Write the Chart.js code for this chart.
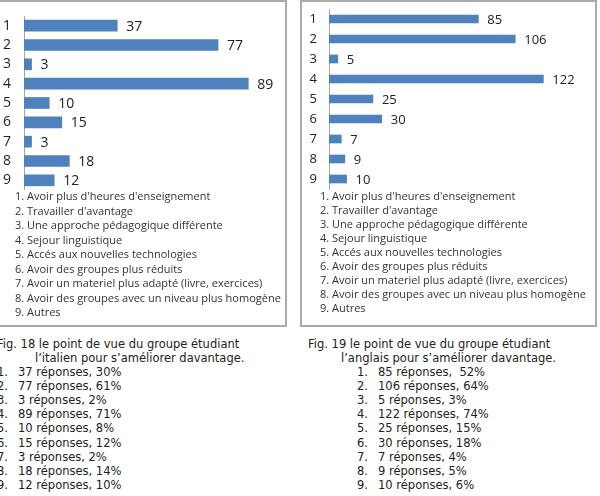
<!DOCTYPE html>
<html>
<head>
<meta charset="utf-8">
<script src="https://cdn.jsdelivr.net/npm/chart.js@4.4.0/dist/chart.umd.min.js"></script>
<style>
  html, body { margin: 0; padding: 0; background: #fff; width: 600px; height: 496px; overflow: hidden; }
  .box { position: absolute; box-sizing: border-box; border: 2px solid #aaaaaa; background: #fff; }
  .legend { position: absolute; font-family: "Open Sans", sans-serif; font-size: 11px; color: #333; line-height: 14.5px; white-space: pre; }
  .cap { position: absolute; font-family: "DejaVu Sans", sans-serif; font-size: 11.5px; color: #222; line-height: 14px; white-space: pre; }
  canvas { position: absolute; }
</style>
</head>
<body>
<div class="box" style="left:-3px;top:0;width:290px;height:327px;"></div>
<div class="box" style="left:300px;top:0;width:297px;height:327px;"></div>
<canvas id="c1" width="286" height="190" style="left:0;top:0;width:286px;height:190px;"></canvas>
<canvas id="c2" width="295" height="190" style="left:301px;top:0;width:295px;height:190px;"></canvas>
<div class="legend" id="leg1" style="left:15px;top:189px;"></div>
<div class="legend" id="leg2" style="left:320px;top:189px;line-height:14px;"></div>
<div id="caps"></div>
<script>
const categories = ['1','2','3','4','5','6','7','8','9'];
const italienValues = [37, 77, 3, 89, 10, 15, 3, 18, 12];
const anglaisValues = [85, 106, 5, 122, 25, 30, 7, 9, 10];
const italienPercent = [30, 61, 2, 71, 8, 12, 2, 14, 10];
const anglaisPercent = [52, 64, 3, 74, 15, 18, 4, 5, 6];
const legendLabels = [
  "Avoir plus d'heures d'enseignement",
  "Travailler d'avantage",
  "Une approche pédagogique différente",
  "Sejour linguistique",
  "Accés aux nouvelles technologies",
  "Avoir des groupes plus réduits",
  "Avoir un materiel plus adapté (livre, exercices)",
  "Avoir des groupes avec un niveau plus homogène",
  "Autres"
];
const caption1 = ["Fig. 18 le point de vue du groupe étudiant", "l’italien pour s’améliorer davantage."];
const caption2 = ["Fig. 19 le point de vue du groupe étudiant", "l’anglais pour s’améliorer davantage."];

const valueLabels = {
  id: 'valueLabels',
  afterDatasetsDraw(chart, args, opts) {
    const ctx = chart.ctx;
    const meta = chart.getDatasetMeta(0);
    const data = chart.data.datasets[0].data;
    ctx.save();
    ctx.font = opts.font;
    ctx.fillStyle = '#222';
    ctx.textAlign = 'left';
    ctx.textBaseline = 'middle';
    meta.data.forEach((bar, i) => {
      ctx.fillText(String(data[i]), bar.x + opts.gap, bar.y + 1);
    });
    ctx.restore();
  }
};

function makeChart(id, values, max, axisW, pad, barT, tickFont, tickPad, labelFont) {
  return new Chart(document.getElementById(id), {
    type: 'bar',
    data: { labels: categories, datasets: [{ data: values, backgroundColor: '#4f81bd', borderWidth: 0, barThickness: barT }] },
    options: {
      indexAxis: 'y',
      responsive: false,
      maintainAspectRatio: false,
      animation: false,
      layout: { padding: pad },
      plugins: { legend: { display: false }, tooltip: { enabled: false }, valueLabels: { font: labelFont, gap: 9 } },
      scales: {
        x: { display: false, min: 0, max: max },
        y: {
          afterFit: s => { s.width = axisW; s.paddingTop = 0; s.paddingBottom = 0; },
          grid: { display: false, drawTicks: false },
          border: { display: true, color: '#a6a6a6', width: 1 },
          ticks: { color: '#222', font: tickFont, padding: tickPad, autoSkip: false }
        }
      }
    },
    plugins: [valueLabels]
  });
}

makeChart('c1', italienValues, 100, 24, { top: 16, right: 10, bottom: 0, left: 0 }, 11,
  { family: 'Open Sans', size: 14 }, 13, '14px "Open Sans"');
makeChart('c2', anglaisValues, 140, 28, { top: 9, right: 21, bottom: 1, left: 0 }, 8,
  { family: 'Open Sans', size: 13 }, 12, '13px "Open Sans"');

document.getElementById('leg1').textContent = legendLabels.map((t, i) => (i + 1) + '. ' + t).join('\n');
document.getElementById('leg2').textContent = legendLabels.map((t, i) => (i + 1) + '. ' + t).join('\n');

function addText(txt, x, y) {
  const d = document.createElement('div');
  d.className = 'cap';
  d.style.left = x + 'px';
  d.style.top = (y - 7) + 'px';
  d.textContent = txt;
  document.getElementById('caps').appendChild(d);
}
addText(caption1[0], -3, 344);
addText(caption1[1], 35, 358);
italienValues.forEach((v, i) => {
  const y = 372 + i * 14.1;
  addText((i + 1) + '.', -3, y);
  addText(v + ' réponses, ' + italienPercent[i] + '%', 18, y);
});
addText(caption2[0], 308, 344);
addText(caption2[1], 341, 358);
anglaisValues.forEach((v, i) => {
  const y = 372 + i * 14.1;
  addText((i + 1) + '.', 357, y);
  addText(v + ' réponses, ' + (i === 0 ? ' ' : '') + anglaisPercent[i] + '%', 378, y);
});
</script>
</body>
</html>
